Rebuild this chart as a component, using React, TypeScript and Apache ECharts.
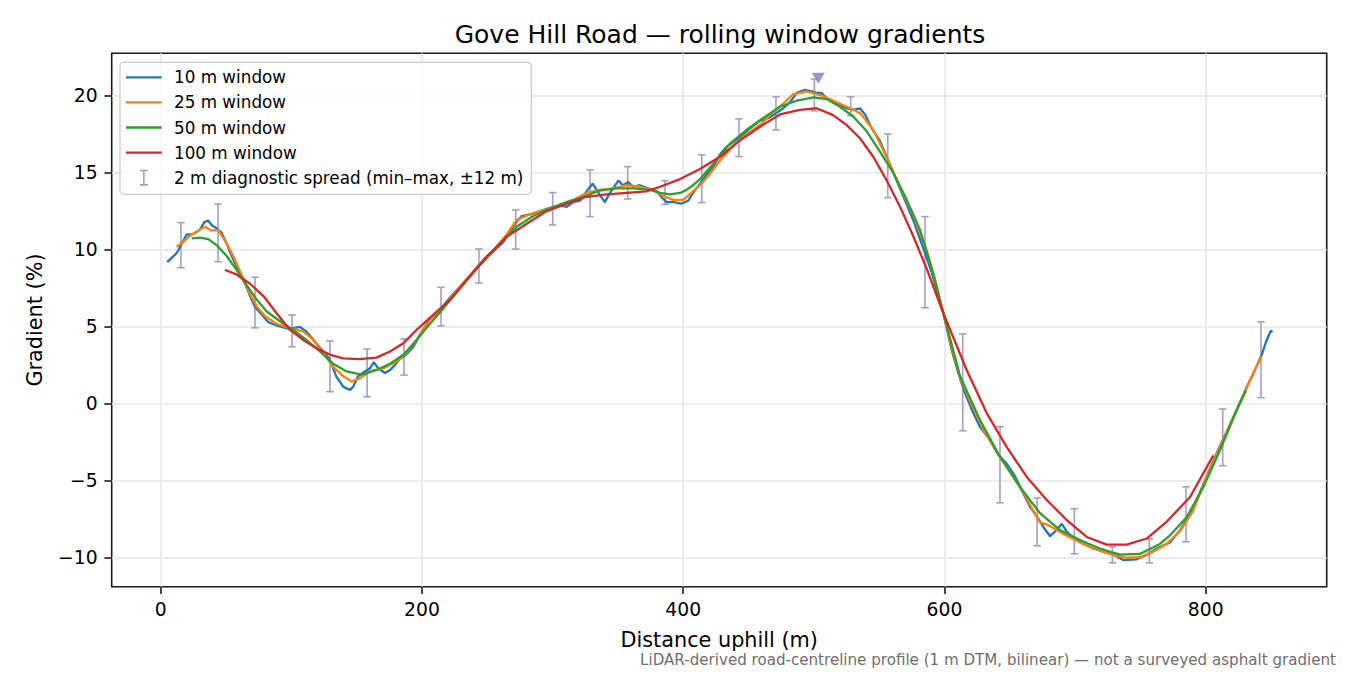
import { useEffect, useRef } from 'react'
import * as echarts from 'echarts'

// texts
const TITLE = 'Gove Hill Road — rolling window gradients'
const X_NAME = 'Distance uphill (m)'
const Y_NAME = 'Gradient (%)'
const FOOTNOTE =
  'LiDAR-derived road-centreline profile (1 m DTM, bilinear) — not a surveyed asphalt gradient'

const X_TICKS = [0, 200, 400, 600, 800]
const Y_TICKS = [-10, -5, 0, 5, 10, 15, 20]

const SERIES_NAMES = ['10 m window', '25 m window', '50 m window', '100 m window']
const SERIES_COLORS = ['#1f77b4', '#ff7f0e', '#2ca02c', '#d62728']
const SPREAD_NAME = '2 m diagnostic spread (min–max, ±12 m)'

// [distance m, gradient %]
const win10 = [
  [5, 9.2], [12.3, 9.8], [16.1, 10.4], [19.9, 11.0], [23.8, 11.0], [26.3, 11.1], [30, 11.3],
  [33.4, 11.8], [36.5, 11.9], [39, 11.6], [42.8, 11.4], [46.7, 11.1], [50.5, 10.4], [54.4, 9.6],
  [58.1, 8.9], [63.2, 8.1], [68.4, 7.0], [72.1, 6.3], [77.3, 5.8], [82.4, 5.3], [88.8, 5.1],
  [96.5, 4.9], [101.5, 4.9], [106.5, 5.0], [111.5, 4.7], [114.5, 4.4], [119.4, 3.9], [124.4, 3.4],
  [129.4, 2.9], [134.3, 1.8], [139.8, 1.1], [145, 0.9], [147.2, 1.1], [151.2, 1.8], [156.2, 2.1],
  [160.2, 2.3], [163.1, 2.7], [166.6, 2.3], [171.7, 2.0], [175.6, 2.2], [179, 2.5], [183, 2.9],
  [188, 3.2], [193.4, 3.7], [198.5, 4.5], [205.8, 5.5], [213.8, 6.1], [221.4, 6.9], [228, 7.5],
  [234.3, 8.05], [243.1, 8.9], [252.1, 9.7], [262.3, 10.5], [271.2, 11.7], [276.4, 12.2],
  [282.7, 12.3], [290.3, 12.5], [296.7, 12.7], [305.7, 12.9], [310.8, 12.8], [315.9, 13.1],
  [321.1, 13.2], [326, 13.8], [330.7, 14.3], [333.7, 13.9], [337.6, 13.4], [340, 13.1],
  [343.9, 13.7], [350.4, 14.5], [353.8, 14.2], [357.8, 14.4], [361.8, 14.1], [366.8, 14.2],
  [373.2, 14.0], [379.7, 13.8], [383.6, 13.4], [387.4, 13.1], [392.6, 13.1], [398.5, 13.0],
  [403.9, 13.2], [407.5, 13.7], [412.9, 14.3], [418, 14.9], [423.1, 15.4], [428.1, 16.2],
  [433.3, 16.7], [438.3, 17.0], [446, 17.5], [451.2, 17.9], [458.8, 18.4], [465.1, 18.55],
  [471.5, 18.9], [476.6, 19.2], [481.8, 19.6], [486.9, 20.2], [493.2, 20.4], [498.4, 20.3],
  [502.1, 20.2], [505.8, 20.2], [509.8, 19.85], [514.8, 19.6], [520, 19.4], [525.2, 19.2],
  [530.3, 19.1], [535.3, 19.2], [539.2, 18.8], [544.3, 17.9], [550.5, 17.1], [557, 15.8],
  [563.4, 14.5], [568.4, 13.5], [576.2, 11.9], [583, 10.3], [590, 8.6], [599.1, 5.9],
  [605.5, 3.5], [610.6, 2.0], [615.7, 0.7], [622.1, -0.6], [627.2, -1.5], [633.6, -2.2],
  [641.2, -3.3], [647.7, -3.9], [654, -4.7], [659.1, -5.6], [665.5, -6.7], [670.6, -7.3],
  [675.7, -8.0], [680.8, -8.6], [684.6, -8.3], [689.8, -7.8], [693.6, -8.3], [698.6, -8.7],
  [706.3, -9.1], [713.9, -9.4], [721.6, -9.6], [729.3, -9.8], [736.9, -10.15], [747.2, -10.1],
  [754.8, -9.8], [762.5, -9.4], [772.7, -9.0], [780.4, -8.2], [788, -7.1], [793.1, -6.25],
  [800.8, -4.7], [808.4, -3.2], [816.1, -1.8], [823.7, -0.4], [831.4, 1.1], [837.7, 2.2],
  [842.9, 3.2], [846.7, 4.15], [849.8, 4.75], [851.1, 4.65],
]

const win25 = [
  [12.1, 10.2], [17.1, 10.5], [22.1, 10.9], [27.5, 11.2], [34, 11.5], [39, 11.25], [43.9, 11.3],
  [48.9, 10.65], [54.4, 9.8], [60.8, 8.6], [66.8, 7.4], [73.7, 6.3], [79.7, 5.7], [88.6, 5.2],
  [99, 4.9], [109.2, 4.7], [116.8, 4.15], [124.4, 3.3], [132.1, 2.4], [139.8, 1.8], [146.2, 1.45],
  [152.2, 1.65], [160.2, 2.1], [170.1, 2.3], [180.6, 2.75], [188, 3.3], [195.9, 4.15],
  [205.8, 5.45], [216.4, 6.3], [228, 7.5], [236, 8.3], [244.6, 9.1], [254, 9.9], [264.8, 11.0],
  [272.4, 11.95], [282.3, 12.3], [298.2, 12.7], [316.1, 13.25], [326, 13.7], [336, 13.9],
  [346.5, 14.0], [356.8, 14.2], [366.8, 14.1], [376.7, 13.9], [384.6, 13.5], [392.6, 13.25],
  [400, 13.25], [407.5, 13.8], [412.9, 14.2], [420, 14.9], [430, 16.0], [440, 16.9], [450, 17.6],
  [460, 18.2], [467, 18.8], [474, 19.3], [484, 20.1], [494.5, 20.3], [504.8, 20.05],
  [514.8, 19.7], [525.2, 19.3], [535.3, 18.9], [545.5, 17.8], [555.5, 16.05], [566, 14.1],
  [576.3, 12.2], [586.3, 10.0], [593, 8.0], [599.1, 5.9], [606, 3.5], [612, 1.7], [620, 0.1],
  [630, -1.7], [640, -3.1], [650, -4.4], [660, -5.7], [667, -6.8], [673, -7.7], [680, -7.9],
  [690, -8.4], [700, -8.85], [710, -9.25], [720, -9.55], [730, -9.85], [740, -10.0],
  [750, -9.95], [760, -9.6], [770, -9.1], [780, -8.3], [790, -7.0], [800, -4.9], [810, -3.0],
  [820, -1.1], [830, 0.8], [837, 2.1], [842.9, 3.1],
]

const win50 = [
  [23.8, 10.75], [30, 10.8], [36.5, 10.7], [42.9, 10.3], [50.5, 9.6], [58.1, 8.7], [65.8, 7.7],
  [73.7, 6.75], [81.2, 6.0], [91.6, 5.35], [101.5, 4.8], [111.5, 4.15], [121.9, 3.4],
  [132.1, 2.6], [142.3, 2.1], [153.9, 1.9], [165.1, 2.2], [175.6, 2.6], [186, 3.2], [195.9, 4.15],
  [206.1, 5.2], [216.4, 6.2], [232, 7.8], [247, 9.35], [259.5, 10.4], [272.4, 11.5],
  [285.3, 12.2], [298.2, 12.7], [310.8, 13.1], [323.5, 13.45], [336, 13.85], [348.9, 14.0],
  [361.8, 14.0], [374.7, 13.9], [382.3, 13.7], [389.6, 13.6], [397.6, 13.7], [402.5, 13.9],
  [407.5, 14.2], [412.9, 14.6], [423.1, 15.6], [435.8, 16.9], [448.6, 17.8], [461.1, 18.55],
  [474, 19.3], [486.9, 19.7], [499.6, 19.9], [509.8, 19.8], [520, 19.3], [530.3, 18.65],
  [540.5, 17.7], [550.5, 16.4], [560.8, 15.0], [571.1, 13.25], [581.3, 11.3], [591.3, 8.5],
  [599.1, 5.9], [611.9, 1.8], [627.2, -1.05], [642.5, -3.45], [657.8, -5.4], [673.1, -7.1],
  [688.4, -8.2], [703.7, -8.85], [719, -9.4], [734.3, -9.8], [749.6, -9.75], [764.9, -9.1],
  [772, -8.6], [785.5, -7.35], [798.2, -5.4], [811, -3.0], [823.7, -0.4], [830.8, 0.85],
]

const win100 = [
  [49.2, 8.7], [58.1, 8.4], [68.4, 7.8], [78.7, 7.0], [88.6, 5.9], [99, 4.8], [109.2, 4.15],
  [119.4, 3.6], [129.4, 3.2], [139.8, 2.95], [152.2, 2.9], [165.1, 3.0], [175.6, 3.4],
  [186, 3.95], [195.9, 4.8], [208.8, 5.8], [221.4, 6.75], [234.3, 8.05], [249.6, 9.55],
  [264.8, 10.85], [280.2, 11.7], [295.2, 12.5], [310.8, 13.0], [326, 13.45], [341.4, 13.6],
  [356.8, 13.7], [371.7, 13.8], [382.3, 14.1], [397.6, 14.6], [412.9, 15.25], [428.1, 16.05],
  [443.2, 17.1], [458.8, 18.0], [474, 18.8], [489.4, 19.1], [502.1, 19.2], [514.8, 18.75],
  [525.2, 18.1], [535.3, 17.25], [545.5, 16.05], [555.5, 14.55], [566, 12.8], [576.3, 10.85],
  [586.3, 8.8], [599.1, 5.9], [617, 2.2], [632.3, -0.6], [647.6, -2.8], [663, -4.75],
  [678.3, -6.25], [693.6, -7.55], [708.9, -8.65], [724.2, -9.15], [739.5, -9.15],
  [754.8, -8.75], [770.2, -7.65], [788, -6.05], [805.8, -3.35],
]

// [distance m, min %, max %]
const spread = [
  [15.5, 8.84, 11.77], [43.9, 9.23, 12.98], [72.2, 4.94, 8.22], [100.5, 3.71, 5.77],
  [129.6, 0.79, 4.08], [158.0, 0.46, 3.56], [186.3, 1.87, 4.21], [214.6, 5.07, 7.57],
  [243.6, 7.85, 10.06], [271.8, 10.06, 12.59], [300.1, 11.62, 13.72], [328.7, 12.16, 15.19],
  [357.5, 13.31, 15.41], [386.1, 12.96, 14.5], [414.2, 13.07, 16.17], [442.7, 16.06, 18.51],
  [471.0, 17.79, 19.95], [500.4, 19.04, 21.1], [528.2, 18.72, 19.95], [556.6, 13.39, 17.53],
  [585.1, 6.24, 12.16], [614.0, -1.75, 4.54], [642.5, -6.43, -1.49], [670.9, -9.22, -6.12],
  [699.4, -9.74, -6.82], [728.5, -10.33, -9.29], [756.8, -10.33, -8.77], [784.9, -8.96, -5.39],
  [813.0, -4.02, -0.34], [842.3, 0.4, 5.33],
]

const peak = [[503.4, 21.15]]

const FONT = "'DejaVu Sans', sans-serif"
const SPREAD_COLOR = '#a99bc6'
const CAP = 3.7
const LINE_ICON = 'path://M0,0H36V2.3H0Z'
const BAR_ICON = 'path://M0,0H8V1.6H0Z M3.2,0H4.8V16H3.2Z M0,14.4H8V16H0Z'

const fmt = (v: number) => (v < 0 ? '\u2212' + Math.abs(v) : String(v))

export default function App() {
  const ref = useRef<HTMLDivElement>(null)

  useEffect(() => {
    if (!ref.current) return
    const chart = echarts.init(ref.current, null, { renderer: 'svg' })

    const lines = [win10, win25, win50, win100].map((data, i) => ({
      name: SERIES_NAMES[i],
      type: 'line',
      data,
      symbol: 'none',
      silent: true,
      z: 3 + i,
      lineStyle: { color: SERIES_COLORS[i], width: 2.3 },
      itemStyle: { color: SERIES_COLORS[i] },
    }))

    chart.setOption({
      animation: false,
      backgroundColor: '#ffffff',
      textStyle: { fontFamily: FONT },
      grid: {
        left: 111.7,
        right: 23.3,
        top: 53.3,
        bottom: 88.3,
        show: true,
        borderColor: '#1a1a1a',
        borderWidth: 1.6,
        containLabel: false,
      },
      xAxis: {
        type: 'value',
        min: -37.5,
        max: 892.6,
        name: X_NAME,
        nameLocation: 'middle',
        nameGap: 43,
        nameTextStyle: { fontSize: 20.8, color: '#000', fontFamily: FONT },
        axisLine: { show: false, onZero: false },
        axisTick: {
          show: true,
          customValues: X_TICKS,
          length: 7.3,
          lineStyle: { color: '#1a1a1a', width: 1.6 },
        },
        axisLabel: {
          customValues: X_TICKS,
          formatter: fmt,
          fontSize: 18.75,
          color: '#000',
          margin: 13,
          fontFamily: FONT,
        },
        splitLine: { show: true, lineStyle: { color: '#e6e6e6', width: 1.5 } },
      },
      yAxis: {
        type: 'value',
        min: -11.88,
        max: 22.77,
        name: Y_NAME,
        nameLocation: 'middle',
        nameGap: 66,
        nameRotate: 90,
        nameTextStyle: { fontSize: 20.8, color: '#000', fontFamily: FONT },
        axisLine: { show: false, onZero: false },
        axisTick: {
          show: true,
          customValues: Y_TICKS,
          length: 7.3,
          lineStyle: { color: '#1a1a1a', width: 1.6 },
        },
        axisLabel: {
          customValues: Y_TICKS,
          formatter: fmt,
          fontSize: 18.75,
          color: '#000',
          margin: 14,
          fontFamily: FONT,
        },
        splitLine: { show: true, lineStyle: { color: '#e6e6e6', width: 1.5 } },
      },
      legend: {
        data: [
          ...SERIES_NAMES.map((name) => ({ name, icon: LINE_ICON })),
          { name: SPREAD_NAME, icon: BAR_ICON },
        ],
        orient: 'vertical',
        left: 120,
        top: 62.3,
        itemWidth: 35.7,
        itemHeight: 16,
        itemGap: 5.1,
        padding: [5, 8, 6.6, 6],
        backgroundColor: 'rgba(255,255,255,0.8)',
        borderColor: '#cccccc',
        borderWidth: 1.3,
        borderRadius: 4,
        selectedMode: false,
        textStyle: {
          fontSize: 16.8,
          color: '#000',
          lineHeight: 20,
          padding: [0, 0, 0, 7.3],
          fontFamily: FONT,
        },
      },
      graphic: [
        {
          type: 'text',
          x: 720,
          y: 34,
          style: {
            text: TITLE,
            fontSize: 25,
            fontFamily: FONT,
            fill: '#000',
            textAlign: 'center',
            textVerticalAlign: 'middle',
            align: 'center',
            verticalAlign: 'middle',
          },
        },
        {
          type: 'text',
          x: 1336,
          y: 660,
          style: {
            text: FOOTNOTE,
            fontSize: 15.1,
            fontFamily: FONT,
            fill: '#6e6e6e',
            textAlign: 'right',
            textVerticalAlign: 'middle',
            align: 'right',
            verticalAlign: 'middle',
          },
        },
      ],
      series: [
        {
          name: SPREAD_NAME,
          type: 'custom',
          data: spread,
          encode: { x: 0, y: [1, 2] },
          itemStyle: { color: SPREAD_COLOR },
          silent: true,
          z: 2,
          renderItem: (_params: unknown, api: any) => {
            const x = api.value(0)
            const lo = api.coord([x, api.value(1)])
            const hi = api.coord([x, api.value(2)])
            const style = { stroke: SPREAD_COLOR, lineWidth: 1.6 }
            return {
              type: 'group',
              children: [
                { type: 'line', shape: { x1: lo[0], y1: lo[1], x2: hi[0], y2: hi[1] }, style },
                { type: 'line', shape: { x1: lo[0] - CAP, y1: lo[1], x2: lo[0] + CAP, y2: lo[1] }, style },
                { type: 'line', shape: { x1: hi[0] - CAP, y1: hi[1], x2: hi[0] + CAP, y2: hi[1] }, style },
              ],
            }
          },
        },
        ...lines,
        {
          name: 'peak',
          type: 'scatter',
          data: peak,
          symbol: 'triangle',
          symbolRotate: 180,
          symbolSize: [13, 11],
          silent: true,
          z: 8,
          itemStyle: { color: '#8a7ab3' },
        },
      ],
    })

    return () => chart.dispose()
  }, [])

  return (
    <div
      ref={ref}
      style={{ position: 'fixed', left: 0, top: 0, width: 1350, height: 675, background: '#fff' }}
    />
  )
}
